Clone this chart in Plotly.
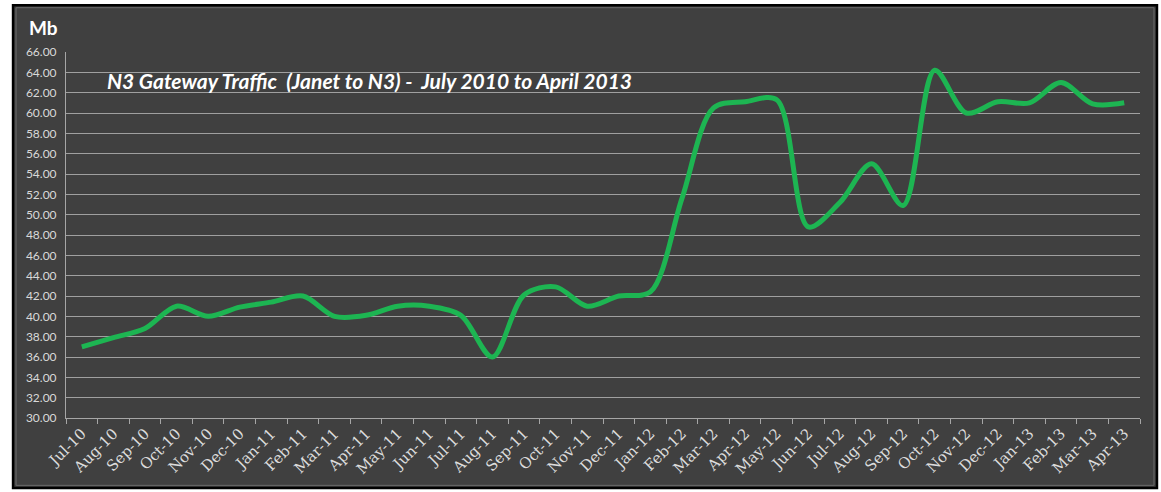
import plotly.graph_objects as go

months = ["Jul-10", "Aug-10", "Sep-10", "Oct-10", "Nov-10", "Dec-10", "Jan-11", "Feb-11",
          "Mar-11", "Apr-11", "May-11", "Jun-11", "Jul-11", "Aug-11", "Sep-11", "Oct-11",
          "Nov-11", "Dec-11", "Jan-12", "Feb-12", "Mar-12", "Apr-12", "May-12", "Jun-12",
          "Jul-12", "Aug-12", "Sep-12", "Oct-12", "Nov-12", "Dec-12", "Jan-13", "Feb-13",
          "Mar-13", "Apr-13"]
traffic_mb = [37.0, 37.9, 38.8, 41.0, 40.0, 40.9, 41.4, 42.0,
              40.0, 40.1, 41.0, 41.0, 40.1, 36.0, 42.1, 42.9,
              41.0, 42.0, 42.4, 51.6, 60.5, 61.1, 61.3, 48.8,
              51.2, 55.0, 50.9, 64.2, 60.0, 61.1, 61.0, 63.0,
              60.9, 61.0]
y_ticks = [30 + 2 * i for i in range(19)]

fig = go.Figure()
fig.add_trace(go.Scatter(
    x=months, y=traffic_mb, mode="lines",
    line=dict(color="#1db552", width=5, shape="spline", smoothing=0.9),
    hoverinfo="x+y", showlegend=False,
))

fig.update_layout(
    width=1161, height=492,
    margin=dict(l=66, r=21, t=52, b=74, autoexpand=False),
    paper_bgcolor="white",
    plot_bgcolor="rgba(0,0,0,0)",
    shapes=[
        dict(type="rect", xref="paper", yref="paper", layer="below",
             x0=-0.0493, x1=1.0158, y0=-0.191, y1=1.128,
             fillcolor="#404040", line=dict(color="#000000", width=2.5)),
        dict(type="rect", xref="paper", yref="paper", layer="below",
             x0=-0.0465, x1=1.0130, y0=-0.184, y1=1.121,
             fillcolor="rgba(0,0,0,0)", line=dict(color="#6a6a6a", width=1)),
    ],
    annotations=[
        dict(text="<b><i>N3 Gateway Traffic  (Janet to N3) -  July 2010 to April 2013</i></b>",
             xref="paper", yref="paper", x=0.0363, y=0.921, xanchor="left", yanchor="middle",
             showarrow=False, font=dict(family="Lato", size=21, color="white")),
        dict(text="<b>Mb</b>", xref="paper", yref="paper", x=-0.0363, y=1.066,
             xanchor="left", yanchor="middle", showarrow=False,
             font=dict(family="Lato", size=19, color="white")),
    ],
)

fig.update_xaxes(
    type="category", range=[-0.5, len(months) - 0.5], tickangle=-45, tickson="boundaries",
    ticks="outside", ticklen=5, tickcolor="#a6a6a6",
    showline=True, linecolor="#a6a6a6", linewidth=1,
    showgrid=False, automargin=False,
    tickfont=dict(family="DejaVu Serif", size=15, color="#dcdcdc"),
)
fig.update_yaxes(
    range=[30, 66], tickvals=y_ticks, tickformat=".2f",
    showgrid=True, gridcolor="#a0a0a0", gridwidth=1,
    showline=True, linecolor="#a6a6a6", linewidth=1,
    ticks="", zeroline=False, automargin=False, ticklabelstandoff=6,
    tickfont=dict(family="Lato", size=12, color="#d9d9d9"),
)

fig.write_html("out.html", config={"displayModeBar": False},
               post_script="document.body.style.margin='0';")
